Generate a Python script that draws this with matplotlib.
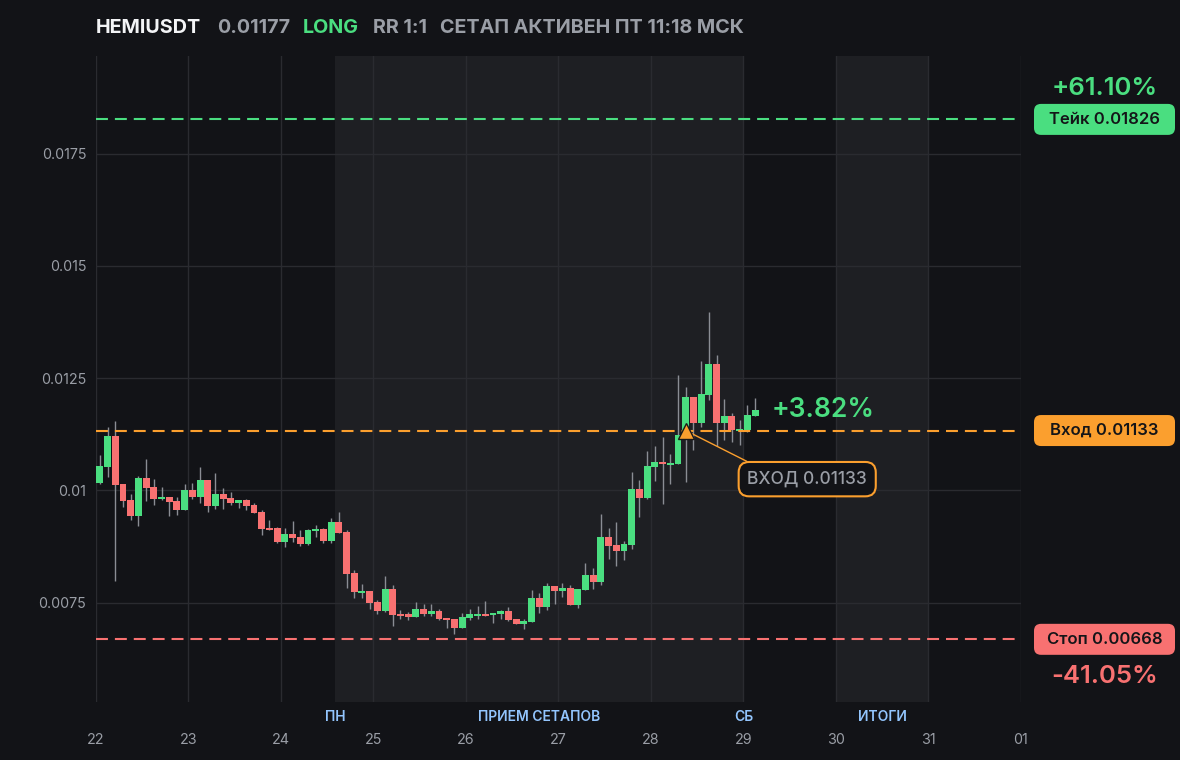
import matplotlib
matplotlib.use('Agg')
import matplotlib.pyplot as plt
from matplotlib.patches import FancyBboxPatch
from matplotlib.transforms import IdentityTransform, blended_transform_factory
import numpy as np

plt.rcParams['font.family'] = ['Inter', 'DejaVu Sans']
plt.rcParams['lines.scale_dashes'] = False

# ---------------- data ----------------
symbol = 'HEMIUSDT'
last_price_text = '0.01177'
side = 'LONG'
rr_text = 'RR 1:1'
status_text = 'СЕТАП АКТИВЕН ПТ 11:18 МСК'

start_day = 22
candle_hours = 2

opens = [0.01016, 0.01052, 0.01120, 0.01013, 0.00978, 0.00943, 0.01027, 0.01007, 0.00981, 0.00984,
         0.00976, 0.00956, 0.01000, 0.00985, 0.01022, 0.00965, 0.00991, 0.00982, 0.00972, 0.00978,
         0.00967, 0.00951, 0.00915, 0.00915, 0.00885, 0.00902, 0.00895, 0.00880, 0.00909, 0.00913,
         0.00887, 0.00929, 0.00906, 0.00816, 0.00771, 0.00775, 0.00751, 0.00731, 0.00780, 0.00724,
         0.00724, 0.00718, 0.00735, 0.00725, 0.00731, 0.00716, 0.00713, 0.00693, 0.00716, 0.00720,
         0.00724, 0.00722, 0.00725, 0.00731, 0.00713, 0.00702, 0.00707, 0.00760, 0.00740, 0.00786,
         0.00775, 0.00782, 0.00745, 0.00777, 0.00811, 0.00795, 0.00895, 0.00878, 0.00865, 0.00878,
         0.01002, 0.00983, 0.01051, 0.01062, 0.01056, 0.01058, 0.01134, 0.01207, 0.01150, 0.01212,
         0.01281, 0.01150, 0.01165, 0.01132, 0.01134, 0.01165]
highs = [0.01078, 0.01141, 0.01154, 0.01013, 0.00991, 0.01031, 0.01070, 0.01024, 0.01007, 0.00984,
         0.00984, 0.01013, 0.01016, 0.01051, 0.01022, 0.01038, 0.01004, 0.00996, 0.00978, 0.00981,
         0.00971, 0.00955, 0.00933, 0.00918, 0.00916, 0.00931, 0.00911, 0.00913, 0.00922, 0.00915,
         0.00938, 0.00951, 0.00911, 0.00822, 0.00791, 0.00775, 0.00755, 0.00809, 0.00789, 0.00733,
         0.00728, 0.00751, 0.00746, 0.00746, 0.00735, 0.00716, 0.00713, 0.00726, 0.00735, 0.00742,
         0.00753, 0.00726, 0.00733, 0.00740, 0.00713, 0.00713, 0.00777, 0.00771, 0.00793, 0.00786,
         0.00793, 0.00789, 0.00780, 0.00837, 0.00826, 0.00947, 0.00915, 0.00929, 0.00886, 0.01040,
         0.01022, 0.01087, 0.01098, 0.01118, 0.01080, 0.01256, 0.01229, 0.01207, 0.01287, 0.01396,
         0.01301, 0.01203, 0.01171, 0.01156, 0.01189, 0.01205]
lows = [0.01015, 0.01030, 0.00798, 0.00962, 0.00933, 0.00920, 0.00976, 0.00967, 0.00978, 0.00943,
        0.00945, 0.00956, 0.00981, 0.00972, 0.00952, 0.00958, 0.00958, 0.00967, 0.00961, 0.00956,
        0.00949, 0.00900, 0.00912, 0.00883, 0.00874, 0.00885, 0.00876, 0.00878, 0.00896, 0.00883,
        0.00883, 0.00905, 0.00782, 0.00760, 0.00760, 0.00736, 0.00725, 0.00729, 0.00698, 0.00713,
        0.00711, 0.00718, 0.00720, 0.00720, 0.00711, 0.00693, 0.00680, 0.00693, 0.00711, 0.00713,
        0.00720, 0.00705, 0.00713, 0.00709, 0.00702, 0.00691, 0.00707, 0.00727, 0.00734, 0.00747,
        0.00762, 0.00745, 0.00738, 0.00777, 0.00780, 0.00789, 0.00846, 0.00831, 0.00844, 0.00869,
        0.00941, 0.00981, 0.01020, 0.00969, 0.01013, 0.01058, 0.01018, 0.01089, 0.01141, 0.01201,
        0.01099, 0.01111, 0.01108, 0.01101, 0.01130, 0.01165]
closes = [0.01053, 0.01120, 0.01012, 0.00976, 0.00943, 0.01027, 0.01005, 0.00981, 0.00984, 0.00974,
          0.00956, 0.01000, 0.00985, 0.01022, 0.00965, 0.00991, 0.00981, 0.00972, 0.00978, 0.00965,
          0.00949, 0.00914, 0.00912, 0.00885, 0.00902, 0.00894, 0.00880, 0.00911, 0.00913, 0.00887,
          0.00929, 0.00905, 0.00814, 0.00774, 0.00775, 0.00749, 0.00731, 0.00780, 0.00722, 0.00720,
          0.00718, 0.00735, 0.00725, 0.00731, 0.00713, 0.00711, 0.00693, 0.00718, 0.00724, 0.00724,
          0.00720, 0.00726, 0.00731, 0.00711, 0.00702, 0.00709, 0.00760, 0.00740, 0.00786, 0.00775,
          0.00782, 0.00745, 0.00780, 0.00811, 0.00795, 0.00895, 0.00876, 0.00865, 0.00880, 0.01002,
          0.00983, 0.01053, 0.01062, 0.01058, 0.01060, 0.01122, 0.01207, 0.01150, 0.01214, 0.01281,
          0.01150, 0.01165, 0.01134, 0.01136, 0.01167, 0.01178]

take_level = 0.01826
entry_level = 0.01133
stop_level = 0.00668
take_label = 'Тейк 0.01826'
entry_label = 'Вход 0.01133'
stop_label = 'Стоп 0.00668'
entry_note = 'ВХОД 0.01133'
take_pct = '+61.10%'
stop_pct = '-41.05%'
current_pct = '+3.82%'
entry_candle = 76

day_ticks = [22, 23, 24, 25, 26, 27, 28, 29, 30, 31, 32]
day_labels = ['22', '23', '24', '25', '26', '27', '28', '29', '30', '31', '01']
session_spans = [(24.583, 29.0), (30.0, 31.0)]
session_names = ['ПН', 'ПРИЕМ СЕТАПОВ', 'СБ', 'ИТОГИ']
session_name_x = [24.583, 26.79, 29.0, 30.5]
y_ticks = [0.0075, 0.01, 0.0125, 0.015, 0.0175]
y_labels = ['0.0075', '0.01', '0.0125', '0.015', '0.0175']

# ---------------- style ----------------
BG = '#121317'
BAND = '#1e1f23'
GRID = '#2a2b30'
GREEN = '#4ade80'
RED = '#f87171'
ORANGE = '#fb9f2e'
WICK = '#8a8d94'
GRAY = '#9a9ea6'
BLUE = '#93c5fd'

W, H = 1180, 760
fig = plt.figure(figsize=(W / 100, H / 100), dpi=100, facecolor=BG)
L, R, T, B = 96, 1021, 56, 702
ax = fig.add_axes([L / W, 1 - B / H, (R - L) / W, (B - T) / H])
ax.set_facecolor(BG)
ax.set_xlim(22, 32)
ax.set_ylim(0.005284, 0.019672)

for s0, s1 in session_spans:
    ax.axvspan(s0, s1, color=BAND, lw=0, zorder=0)

ax.set_xticks(day_ticks)
ax.set_xticklabels(day_labels)
ax.set_yticks(y_ticks)
ax.set_yticklabels(y_labels)
ax.grid(True, color=GRID, lw=1, zorder=1)
ax.tick_params(axis='both', length=0, colors=GRAY, labelsize=10.3)
ax.tick_params(axis='x', pad=22)
ax.tick_params(axis='y', pad=7)
for sp in ax.spines.values():
    sp.set_visible(False)

# session labels
trans_xa = blended_transform_factory(ax.transData, ax.transAxes)
for name, xx in zip(session_names, session_name_x):
    ax.text(xx, -15 / (B - T), name, transform=trans_xa, ha='center', va='center',
            color=BLUE, fontsize=10, fontweight='semibold')

# candles
n = len(opens)
o = np.array(opens); h = np.array(highs); l = np.array(lows); c = np.array(closes)
x = start_day + (np.arange(n) + 0.5) * candle_hours / 24
width = 0.9 * candle_hours / 24
ax.vlines(x, l, h, color=WICK, lw=1, zorder=2)
up = c >= o
bottom = np.minimum(o, c)
height = np.maximum(np.abs(c - o), 0.00004)
ax.bar(x, height, width=width, bottom=bottom, color=np.where(up, GREEN, RED), lw=0, zorder=3)

# levels
dash = (0, (8.6, 5.0))
ax.axhline(take_level, color=GREEN, lw=1.5, linestyle=dash, zorder=4)
ax.axhline(entry_level, color=ORANGE, lw=1.5, linestyle=dash, zorder=4)
ax.axhline(stop_level, color=RED, lw=1.5, linestyle=dash, zorder=4)

# entry marker + note
ex = x[entry_candle]
ax.annotate(entry_note, xy=(ex, entry_level), xytext=(87.5, -35), textcoords='offset points',
            ha='center', va='center', color=GRAY, fontsize=12.5, fontweight='medium', zorder=5,
            bbox=dict(boxstyle='round,pad=0.5,rounding_size=0.6', fc=BG, ec=ORANGE, lw=1.5),
            arrowprops=dict(arrowstyle='-', color=ORANGE, lw=1, relpos=(0.15, 1.0),
                            shrinkA=0, shrinkB=0))
ax.plot([ex], [entry_level], marker='^', ms=11, color=ORANGE, mec='#1a1a1a', mew=1, zorder=6)

# current pct
ax.annotate(current_pct, xy=(x[-1], closes[-1]), xytext=(12, 0), textcoords='offset points',
            ha='left', va='center', color=GREEN, fontsize=19, fontweight='semibold', zorder=5)

# right-side level boxes
fig.canvas.draw()
def ypix(v):
    return ax.transData.transform((22, v))[1]

bx0, bw, bh = 1034, 141, 31
for lvl, lab, col in [(take_level, take_label, GREEN), (entry_level, entry_label, ORANGE),
                      (stop_level, stop_label, RED)]:
    yc = ypix(lvl)
    fig.patches.append(FancyBboxPatch((bx0, yc - bh / 2), bw, bh,
                                      boxstyle='round,pad=0,rounding_size=7',
                                      fc=col, ec='none', transform=IdentityTransform(),
                                      figure=fig))
    fig.text(bx0 + bw / 2, yc, lab, transform=IdentityTransform(), ha='center', va='center',
             color='#141518', fontsize=12, fontweight='semibold')

fig.text(bx0 + bw / 2, ypix(take_level) + 31, take_pct, transform=IdentityTransform(),
         ha='center', va='center', color=GREEN, fontsize=18.5, fontweight='semibold')
fig.text(bx0 + bw / 2, ypix(stop_level) - 37, stop_pct, transform=IdentityTransform(),
         ha='center', va='center', color=RED, fontsize=18.5, fontweight='semibold')

# title
ty = 1 - 28 / H
fig.text(96 / W, ty, symbol, color='#f3f4f6', fontsize=14.2, fontweight='bold', va='center')
fig.text(217 / W, ty, last_price_text, color=GRAY, fontsize=14.2, fontweight='bold', va='center')
fig.text(303 / W, ty, side, color=GREEN, fontsize=14.2, fontweight='bold', va='center')
fig.text(373 / W, ty, rr_text, color=GRAY, fontsize=14.2, fontweight='bold', va='center')
fig.text(440 / W, ty, status_text, color=GRAY, fontsize=14.2, fontweight='bold', va='center')

fig.savefig('out.png', dpi=100, facecolor=BG)
